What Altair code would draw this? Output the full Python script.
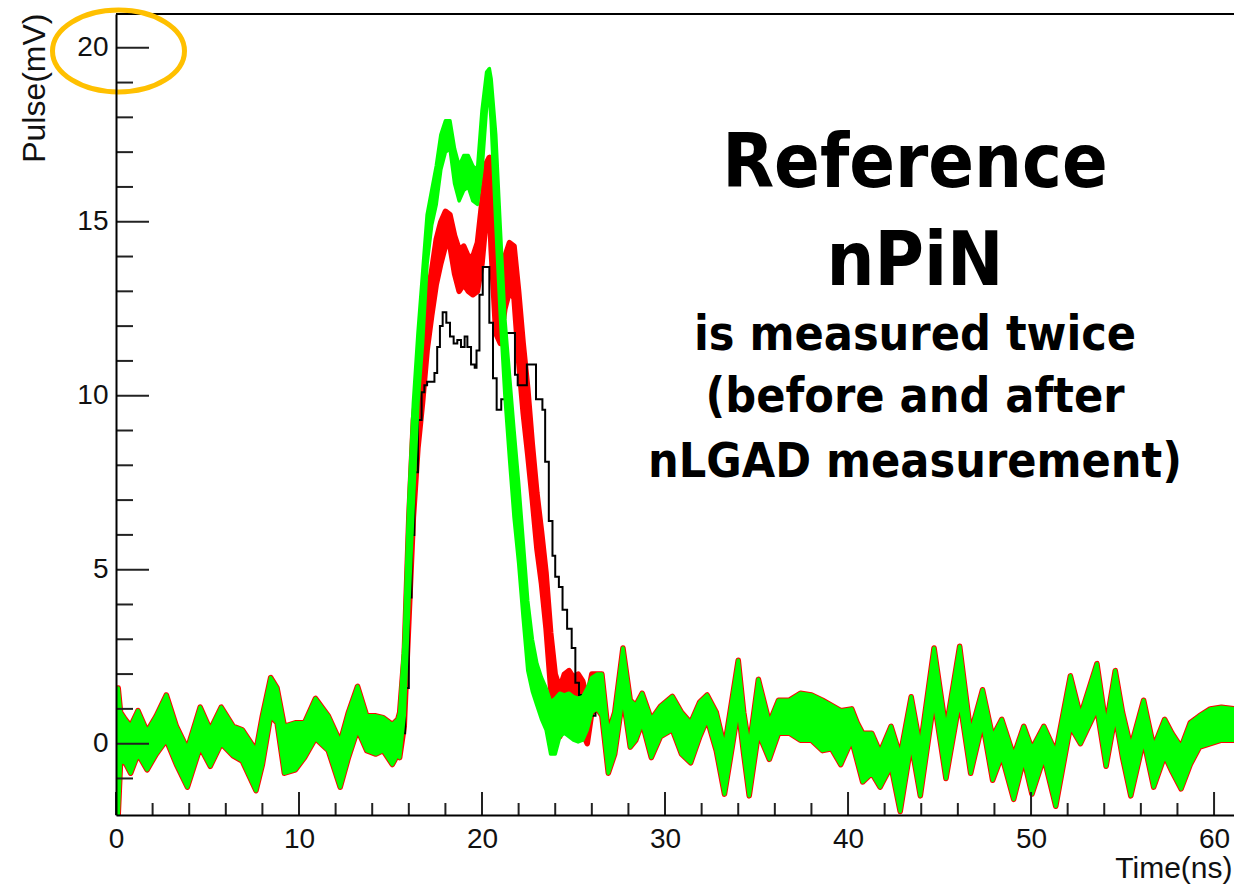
import altair as alt
import pandas as pd

# ---------------------------------------------------------------------------
# Plot frame (ns on x, mV on y)
# ---------------------------------------------------------------------------
X_MIN, X_MAX = 0.0, 61.09
Y_MIN, Y_MAX = -2.05, 20.97
W, H = 1118, 801

# ---------------------------------------------------------------------------
# Pickup-noise envelope common to every recorded waveform (lower / upper edge)
# ---------------------------------------------------------------------------
noise_t = [0.0, 0.12, 0.25, 0.5, 0.8, 1.2, 1.7, 2.2, 2.75, 3.3, 3.9, 4.6, 5.15,
           5.75, 6.4, 6.9, 7.65, 8.0, 8.45, 8.8, 9.2, 9.8, 10.3, 10.9, 11.6,
           12.25, 12.7, 13.2, 13.7, 14.2, 14.6, 15.1, 15.4,
           26.3, 26.55, 26.9, 27.25, 27.7, 28.1, 28.4, 28.75, 29.25, 29.75,
           30.4, 30.9, 31.4, 31.9, 32.3, 32.8, 33.25, 33.7, 34.0, 34.3, 34.6,
           35.1, 35.7, 36.2, 36.8, 37.4, 38.0, 38.6, 39.1, 39.6, 40.2, 40.5,
           40.8, 41.3, 41.75, 42.35, 42.85, 43.45, 43.95, 44.7, 45.35, 46.1,
           46.7, 47.35, 47.9, 48.4, 49.05, 49.6, 50.05, 50.7, 51.35, 52.15,
           52.7, 53.6, 54.1, 54.6, 55.0, 55.45, 56.15, 56.7, 57.3, 57.7, 58.2,
           58.7, 59.2, 59.8, 60.4, 61.1]
noise_lo = [-2.05, -2.05, -0.5, -0.55, -0.85, -0.3, -0.75, -0.3, 0.1, -0.6,
            -1.25, -0.1, -0.65, 0.0, -0.35, -0.5, -1.35, -0.6, 0.8, 0.6, -0.85,
            -0.75, -0.4, 0.15, -0.2, -1.25, -0.4, 0.4, -0.2, -0.3, -0.2, -0.6,
            -0.3,
            1.0, 0.8, -0.85, -0.3, 1.35, -0.1, 0.1, 0.6, -0.4, 0.2,
            0.4, -0.3, -0.55, 0.2, 0.7, -0.2, -1.45, 0.0, 1.0, -0.3, -1.5,
            0.3, -0.45, 0.3, 0.3, 0.1, 0.1, -0.2, -0.15, -0.6, 0.1, -0.5,
            -1.1, -0.85, -1.25, -0.65, -1.95, 0.0, -1.5, 1.25, -1.0, 1.25,
            -0.85, 0.6, -1.05, -0.35, -1.6, -0.45, -1.45, -0.4, -1.8, 0.5,
            0.0, 1.0, -0.65, 0.8, -0.4, -1.5, 0.1, -1.25, -0.35, -0.8, -1.3,
            -0.6, -0.1, 0.0, 0.1, 0.1]
noise_hi = [0.3, 1.6, 0.9, 0.7, 0.5, 0.95, 0.35, 0.8, 1.4, 0.5,
            -0.15, 1.05, 0.4, 1.05, 0.5, 0.4, -0.2, 0.8, 1.9, 1.6, 0.5,
            0.6, 0.6, 1.3, 0.8, 0.05, 0.9, 1.65, 0.8, 0.8, 0.75, 0.55,
            0.7,
            2.0, 2.0, 0.3, 0.9, 2.75, 1.25, 1.1, 1.45, 0.7, 1.07,
            1.36, 0.9, 0.6, 1.2, 1.4, 0.9, -0.1, 1.4, 2.4, 0.9, -0.1,
            1.85, 0.6, 1.25, 1.25, 1.45, 1.4, 1.25, 1.1, 0.95, 1.0, 0.6,
            0.3, 0.3, -0.25, 0.5, -0.35, 1.35, -0.1, 2.75, 0.4, 2.8,
            0.3, 1.55, 0.2, 0.7, -0.35, 0.5, -0.15, 0.5, -0.25, 1.95,
            0.8, 2.3, 0.5, 2.1, 0.9, -0.1, 1.25, -0.1, 0.7, 0.3, -0.1,
            0.6, 0.8, 1.0, 1.05, 1.0]

# ---------------------------------------------------------------------------
# Pulse window: envelopes of the two nPiN measurement sets
# ---------------------------------------------------------------------------
pulse_t = [15.5, 15.75, 16.0, 16.25, 16.5, 16.75, 17.0, 17.25, 17.5, 17.75,
           18.0, 18.25, 18.5, 18.75, 19.0, 19.25, 19.5, 19.75, 20.0, 20.25,
           20.4, 20.5, 20.75, 21.0, 21.25, 21.5, 21.75, 22.0, 22.25, 22.5,
           22.75, 23.0, 23.25, 23.5, 23.75, 24.0, 24.25, 24.5, 24.75, 25.0,
           25.25, 25.5, 25.75, 26.0]
green_lo = [-0.4, 0.8, 4.0, 7.0, 9.8, 11.5, 13.8, 14.9, 15.5, 16.5,
            17.0, 17.1, 16.1, 15.6, 15.9, 16.0, 15.6, 15.5, 16.5, 18.3,
            18.6, 17.9, 15.0, 12.3, 10.0, 8.2, 6.5, 5.2, 3.6, 2.1,
            1.5, 1.1, 0.7, 0.4, -0.3, -0.3, 0.2, 0.3, 0.2, 0.1,
            0.05, 0.1, 0.4, 0.9]
green_hi = [0.9, 3.0, 7.0, 9.8, 11.8, 13.5, 15.2, 15.9, 16.6, 17.5,
            17.9, 17.9, 17.1, 16.6, 16.9, 16.9, 16.6, 16.5, 18.2, 19.3,
            19.4, 19.1, 17.5, 14.8, 12.2, 10.6, 9.0, 7.5, 5.8, 4.1,
            3.0, 2.3, 1.9, 1.6, 1.2, 1.3, 1.45, 1.4, 1.45, 1.35,
            1.3, 1.35, 1.6, 1.9]
red_lo = [-0.4, 0.5, 3.5, 6.5, 8.5, 9.8, 11.3, 12.3, 13.2, 13.8,
          14.3, 14.3, 13.5, 13.0, 13.2, 13.0, 12.9, 13.0, 13.8, 15.2,
          15.4, 14.2, 11.8, 11.5, 12.5, 13.0, 12.8, 11.0, 9.5, 8.3,
          7.0, 5.6, 4.6, 3.3, 1.6, 0.4, 0.2, 0.6, 0.8, 0.6,
          0.7, 0.3, 0.0, 0.9]
red_hi = [0.9, 2.6, 6.5, 9.3, 10.5, 11.8, 12.8, 13.6, 14.5, 15.0,
          15.3, 15.2, 14.6, 14.2, 14.3, 14.0, 14.0, 14.4, 15.6, 16.7,
          16.85, 16.4, 13.8, 13.0, 14.0, 14.4, 14.3, 13.0, 11.5, 10.2,
          8.6, 7.2, 6.1, 4.9, 3.2, 2.0, 1.6, 2.0, 2.1, 1.9,
          2.0, 1.8, 1.3, 2.0]

# single reference waveform (histogram, step-after bins)
black_t = [15.5, 15.8, 16.0, 16.15, 16.3, 16.5, 16.7, 16.85, 17.0, 17.4,
           17.55, 17.7, 17.85, 18.05, 18.25, 18.45, 18.65, 18.85, 19.05, 19.2,
           19.4, 19.6, 19.7, 19.86, 20.04, 20.4, 20.6, 20.8, 21.05, 21.3,
           21.8, 21.95, 22.45, 22.95, 23.3, 23.45, 23.65, 23.85, 24.0, 24.2,
           24.4, 24.65, 24.9, 25.1, 25.3, 25.6, 25.9, 26.2]
black_v = [0.3, 1.6, 4.2, 6.0, 7.8, 9.3, 10.1, 10.3, 10.4, 10.65,
           11.4, 12.0, 12.4, 12.1, 11.7, 11.5, 11.6, 11.4, 11.7, 11.4,
           10.9, 10.8, 11.3, 12.9, 13.7, 12.1, 10.5, 9.6, 9.9, 11.8,
           10.6, 10.3, 10.9, 9.9, 9.6, 8.1, 6.4, 5.4, 4.8, 4.5,
           3.85, 3.3, 2.75, 1.75, 1.4, 1.1, 0.8, 0.9]

# axis ticks
x_major = [0, 10, 20, 30, 40, 50, 60]
x_minor = [2, 4, 6, 8, 12, 14, 16, 18, 22, 24, 26, 28, 32, 34, 36, 38,
           42, 44, 46, 48, 52, 54, 56, 58]
y_major = [0, 5, 10, 15, 20]
y_minor = [-1, 1, 2, 3, 4, 6, 7, 8, 9, 11, 12, 13, 14, 16, 17, 18, 19]

note_big = ["Reference", "nPiN"]
note_small = ["is measured twice", "(before and after", "nLGAD measurement)"]


def band(lo_p, hi_p):
    rows = [(t, lo, hi) for t, lo, hi in zip(noise_t, noise_lo, noise_hi)
            if t < pulse_t[0]]
    rows += list(zip(pulse_t, lo_p, hi_p))
    rows += [(t, lo, hi) for t, lo, hi in zip(noise_t, noise_lo, noise_hi)
             if t > pulse_t[-1]]
    return pd.DataFrame(rows, columns=["t", "lo", "hi"])


green_df = band(green_lo, green_hi)
red_df = band(red_lo, red_hi)
black_df = pd.DataFrame({"t": black_t, "v": black_v})

xs = alt.Scale(domain=[X_MIN, X_MAX], nice=False, zero=False)
ys = alt.Scale(domain=[Y_MIN, Y_MAX], nice=False, zero=False)

LABEL_FONT = "Liberation Sans"
NOTE_FONT = "DejaVu Sans Condensed, DejaVu Sans"

x_axis = alt.Axis(values=x_major, ticks=False, tickSize=0, grid=False,
                  domainColor="black", domainWidth=2, labelFont=LABEL_FONT,
                  labelFontSize=28, labelColor="#111", labelPadding=10,
                  labelFlush=False, labelOverlap=False,
                  title="Time(ns)", titleFont=LABEL_FONT, titleFontSize=30,
                  titleFontWeight="normal", titleColor="#111",
                  titleAlign="right", titleAnchor="end", titleBaseline="alphabetic",
                  titleX=1116, titleY=62, zindex=1)
y_axis = alt.Axis(values=y_major, ticks=False, tickSize=0, grid=False,
                  domainColor="black", domainWidth=2, labelFont=LABEL_FONT,
                  labelFontSize=28, labelColor="#111", labelPadding=8,
                  labelBaseline="middle", labelFlush=False, labelOverlap=False,
                  title="Pulse(mV)", titleFont=LABEL_FONT, titleFontSize=32,
                  titleFontWeight="normal", titleColor="#111",
                  titleAngle=270, titleAlign="right", titleBaseline="alphabetic",
                  titleX=-72, titleY=-1, zindex=1)


def X(field):
    return alt.X(field, scale=xs, axis=x_axis)


def Y(field):
    return alt.Y(field, scale=ys, axis=y_axis)


red = alt.Chart(red_df).mark_area(
    color="#ff0000", stroke="#ff0000", strokeWidth=5.5, strokeJoin="round",
    clip=True, opacity=1
).encode(x=X("t:Q"), y=Y("lo:Q"), y2="hi:Q")

green = alt.Chart(green_df).mark_area(
    color="#00ff00", stroke="#00ff00", strokeWidth=3.5, strokeJoin="round",
    clip=True, opacity=1
).encode(x=X("t:Q"), y=Y("lo:Q"), y2="hi:Q")

black = alt.Chart(black_df).mark_line(
    color="black", strokeWidth=2, interpolate="step-after", clip=True
).encode(x=X("t:Q"), y=Y("v:Q"))

tick_color = "#222"
xt_major = alt.Chart(pd.DataFrame({"t": x_major})).mark_rule(
    color=tick_color, strokeWidth=2).encode(
    x=X("t:Q"), y=alt.value(H), y2=alt.value(H - 23))
xt_minor = alt.Chart(pd.DataFrame({"t": x_minor})).mark_rule(
    color=tick_color, strokeWidth=2).encode(
    x=X("t:Q"), y=alt.value(H), y2=alt.value(H - 12))
yt_major = alt.Chart(pd.DataFrame({"v": y_major})).mark_rule(
    color=tick_color, strokeWidth=2).encode(
    y=Y("v:Q"), x=alt.value(0), x2=alt.value(33))
yt_minor = alt.Chart(pd.DataFrame({"v": y_minor})).mark_rule(
    color=tick_color, strokeWidth=2).encode(
    y=Y("v:Q"), x=alt.value(0), x2=alt.value(17))

top_frame = alt.Chart(pd.DataFrame({"k": [0]})).mark_rule(
    color="black", strokeWidth=2).encode(
    x=alt.value(0), x2=alt.value(W), y=alt.value(0))

# highlight ring around the top y label
ring_path = ("M 1 0 C 1 0.343 0.552 0.621 0 0.621 C -0.552 0.621 -1 0.343 -1 0 "
             "C -1 -0.343 -0.552 -0.621 0 -0.621 C 0.552 -0.621 1 -0.343 1 0 Z")
ring = alt.Chart(pd.DataFrame({"k": [0]})).mark_point(
    shape=ring_path, size=132 * 132, filled=False, stroke="#ffc000",
    strokeWidth=5, opacity=1).encode(x=alt.value(2.5), y=alt.value(37))


def note(text, y, size):
    return alt.Chart(pd.DataFrame({"s": [text]})).mark_text(
        font=NOTE_FONT, fontSize=size, fontWeight="bold", color="black",
        align="center", baseline="alphabetic"
    ).encode(text="s:N", x=alt.value(799), y=alt.value(y))


notes = [note(note_big[0], 173, 75), note(note_big[1], 271, 75),
         note(note_small[0], 336, 48), note(note_small[1], 398, 48),
         note(note_small[2], 463, 48)]

chart = alt.layer(
    red, black, green, xt_major, xt_minor, yt_major, yt_minor, top_frame,
    ring, *notes
).properties(
    width=W, height=H,
    padding={"left": 116, "top": 14, "right": 0, "bottom": 69},
    autosize=alt.AutoSizeParams(type="none"),
).configure_view(stroke=None).configure(background="white")

chart.save("out.html", embed_options={"renderer": "svg", "actions": False})
